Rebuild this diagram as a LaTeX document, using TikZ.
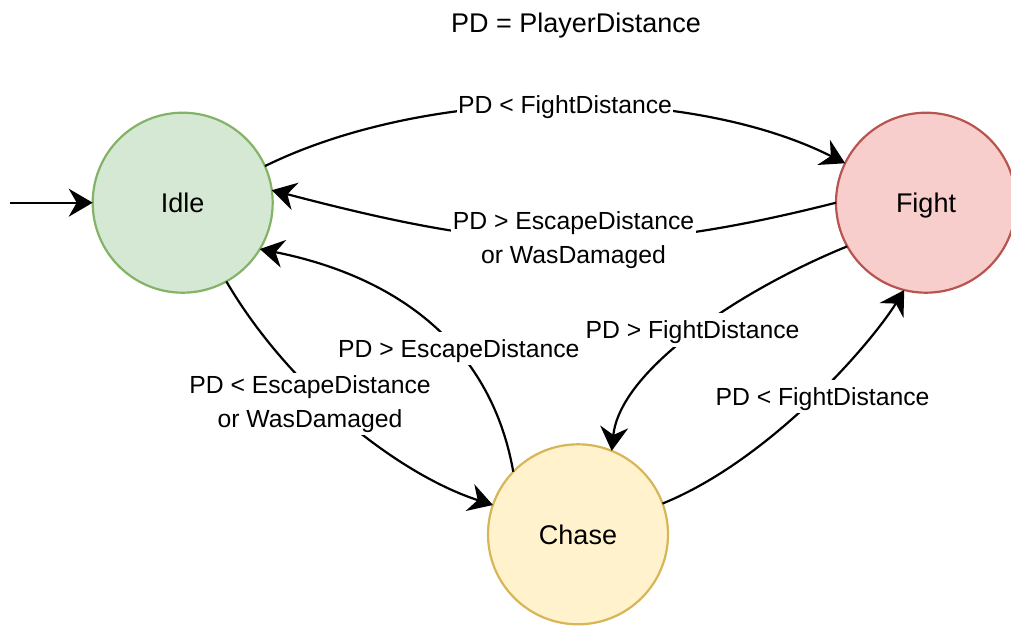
\documentclass[tikz,border=0pt]{standalone}
\usepackage{fontspec}
\setmainfont{Liberation Sans}
\usetikzlibrary{arrows.meta}

\definecolor{idlefill}{HTML}{D5E8D4}
\definecolor{idleline}{HTML}{82B366}
\definecolor{fightfill}{HTML}{F8CECC}
\definecolor{fightline}{HTML}{B85450}
\definecolor{chasefill}{HTML}{FFF2CC}
\definecolor{chaseline}{HTML}{D6B656}

\begin{document}
\begin{tikzpicture}[x=1pt,y=-1pt,
  stnode/.style={circle, minimum size=180pt, inner sep=0pt, outer sep=0pt,
    line width=2.2pt, font=\fontsize{27}{32}\selectfont,
    text height=25.1pt, text depth=5.7pt},
  trans/.style={line width=2.2pt, -{Stealth[length=24pt,width=28pt,inset=8pt]}},
  elabel/.style={fill=white, inner xsep=1.5pt, inner ysep=2.5pt,
    font=\fontsize{24.75}{33.8}\selectfont, align=center},
  onel/.style={elabel, text height=23pt, text depth=5.2pt},
  titletext/.style={font=\fontsize{27}{32}\selectfont, text height=25.1pt, text depth=5.7pt}
]
\useasboundingbox (0,0) rectangle (1011,626);

% states
\node[stnode, draw=idleline, fill=idlefill] (idle) at (182.7,202.7) {Idle};
\node[stnode, draw=fightline, fill=fightfill] (fight) at (926,202.7) {Fight};
\node[stnode, draw=chaseline, fill=chasefill] (chase) at (578,534.3) {Chase};

% initial transition
\coordinate (entry) at (10,202.7);
\draw[trans] (entry) -- (idle.west);

% transitions
\draw[trans] (idle.24) .. controls (430,85) and (690,85) .. (fight.154);
\draw[trans] (fight.180) .. controls (610,260) and (500,250) .. (idle.8);
\draw[trans] (fight.209) .. controls (740,290) and (620,370) .. (chase.68);
\draw[trans] (chase.20) .. controls (770,460) and (870,345) .. (fight.256);
\draw[trans] (chase.136) .. controls (490,340) and (390,275) .. (idle.-31);
\draw[trans] (idle.-61) .. controls (290,390) and (400,475) .. (chase.161);

% transition labels
\node[onel] (l1) at (565,105) {PD < FightDistance};
\node[elabel] (l2) at (573.5,240.1) {PD > EscapeDistance\\or WasDamaged};
\node[onel] (l3) at (692.5,330) {PD > FightDistance};
\node[onel] (l4) at (822.5,396.7) {PD < FightDistance};
\node[onel] (l5) at (458.8,348.3) {PD > EscapeDistance};
\node[elabel] (l6) at (310,404.4) {PD < EscapeDistance\\or WasDamaged};

% legend
\node[titletext] (legend) at (576,22.5) {PD = PlayerDistance};
\end{tikzpicture}
\end{document}
